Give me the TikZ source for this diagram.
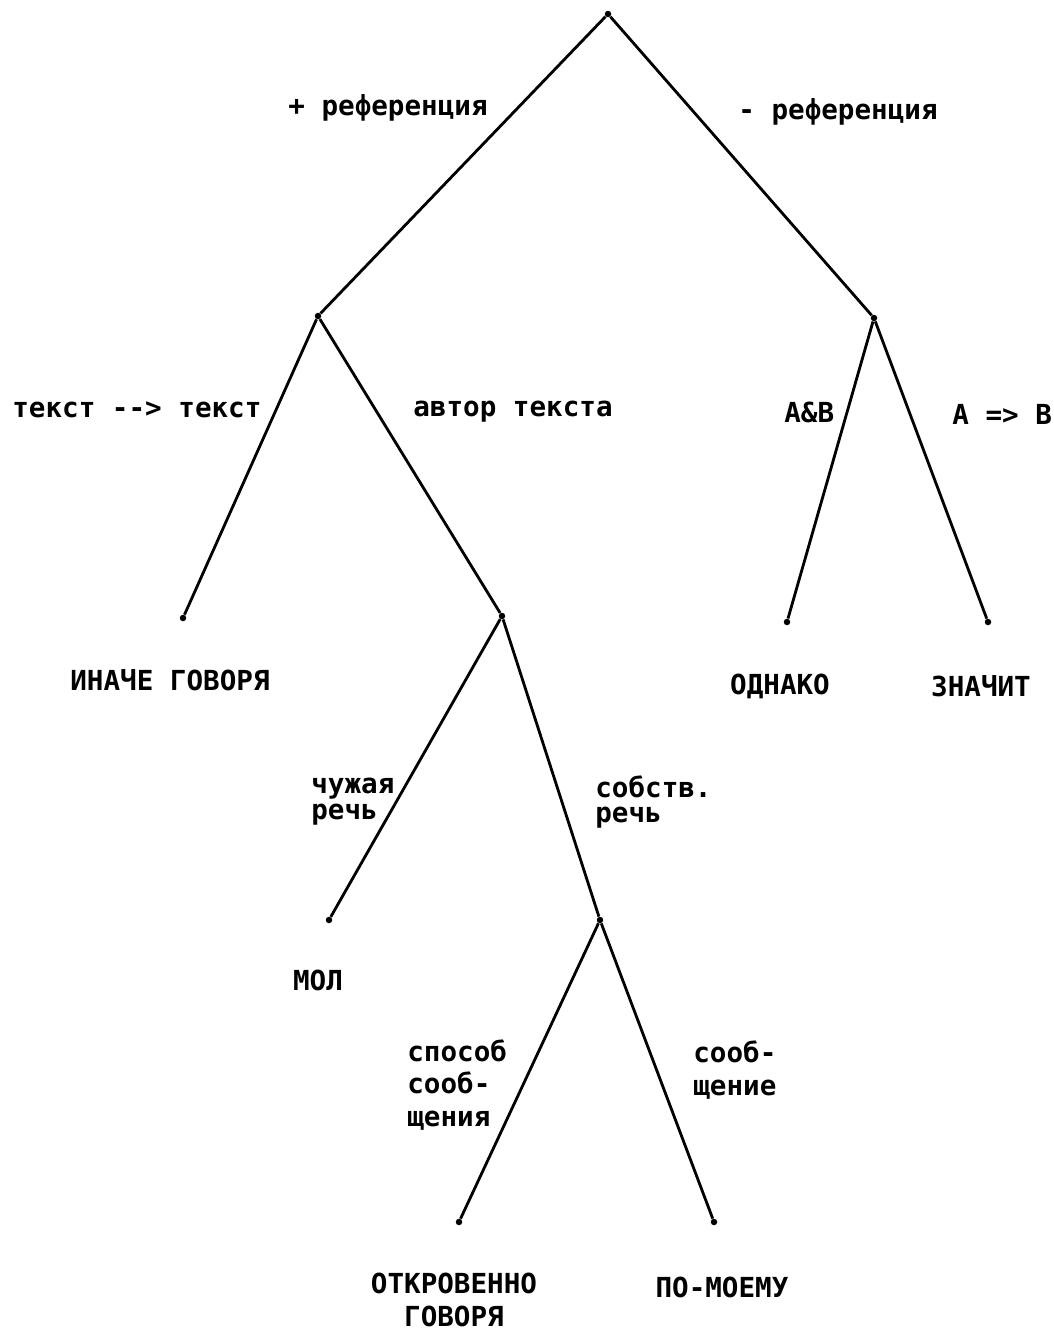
\documentclass[tikz,border=0pt]{standalone}
\usepackage{fontspec}
\setmainfont{DejaVu Sans Mono}
\usetikzlibrary{positioning}

\begin{document}
\begin{tikzpicture}[x=0.02cm, y=-0.02cm,
      font=\fontsize{15.7}{18.4}\selectfont\bfseries,
      pt/.style={circle, fill, inner sep=0pt, minimum size=0.13cm},
      lbl/.style={inner sep=0pt, anchor=west, align=left},
      leaf/.style={inner sep=0pt, align=center},
      br/.style={line width=1.6pt}]
    \useasboundingbox (0,0) rectangle (1054,1333);
    % vertices of the tree
    \node[pt] (root) at (608,14) {};
    \node[pt] (ref) at (318,316) {};
    \node[pt] (noref) at (874,318) {};
    \node[pt] (inache) at (183,618) {};
    \node[pt] (avtor) at (502,616) {};
    \node[pt] (odnako) at (787,622) {};
    \node[pt] (znachit) at (988,622) {};
    \node[pt] (mol) at (329,920) {};
    \node[pt] (sobstv) at (600,920) {};
    \node[pt] (otkr) at (459,1222) {};
    \node[pt] (pomoemu) at (714,1222) {};
    % branches
    \draw[br] (root) -- (ref); \draw[br] (root) -- (noref);
    \draw[br] (ref) -- (inache); \draw[br] (ref) -- (avtor);
    \draw[br] (noref) -- (odnako); \draw[br] (noref) -- (znachit);
    \draw[br] (avtor) -- (mol); \draw[br] (avtor) -- (sobstv);
    \draw[br] (sobstv) -- (otkr); \draw[br] (sobstv) -- (pomoemu);
    % branch labels
    \node[lbl] (lref) at (288,108) {+ референция};
    \node[lbl] (lnoref) at (738,112) {- референция};
    \node[lbl] (ltxt) at (12,410) {текст -\kern0pt-> текст};
    \node[lbl] (lavtor) at (413,412) {автор текста};
    \node[lbl] (land) at (784,412) {A\&B};
    \node[lbl] (limpl) at (952,414) {A => B};
    \node[lbl] (lchuzh) at (311,802) {чужая\\[-3.7pt]речь};
    \node[lbl] (lsobstv) at (595,802) {собств.\\[-3.7pt]речь};
    \node[lbl] (lsposob) at (407,1085) {способ\\сооб-\\щения};
    \node[lbl] (lsoob) at (693,1070) {сооб-\\щение};
    % leaf words
    \node[leaf] (winache) at (170,680) {ИНАЧЕ ГОВОРЯ};
    \node[leaf] (wodnako) at (780,686) {ОДНАКО};
    \node[leaf] (wznachit) at (981,686) {ЗНАЧИТ};
    \node[leaf] (wmol) at (318,980) {МОЛ};
    \node[leaf] (wotkr) at (454,1300) {ОТКРОВЕННО\\[0.6pt]ГОВОРЯ};
    \node[leaf] (wpomoemu) at (722,1287) {ПО-МОЕМУ};
\end{tikzpicture}
\end{document}
